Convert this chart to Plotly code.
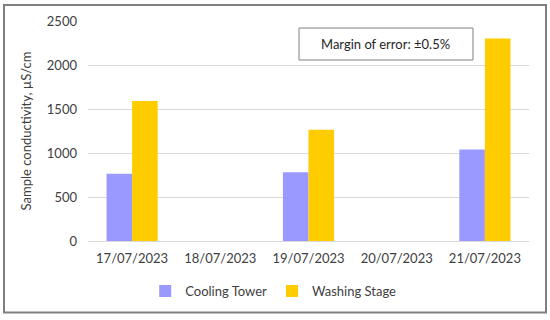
import plotly.graph_objects as go

dates = ["17/07/2023", "18/07/2023", "19/07/2023", "20/07/2023", "21/07/2023"]
cooling_tower = [765, None, 782, None, 1040]
washing_stage = [1590, None, 1265, None, 2300]
y_ticks = [0, 500, 1000, 1500, 2000, 2500]

FONT = "Lato, Open Sans, sans-serif"
TXT = "#404040"

fig = go.Figure()
fig.add_trace(go.Bar(x=dates, y=cooling_tower, name="Cooling Tower",
                     marker=dict(color="#9999FF", line=dict(width=0))))
fig.add_trace(go.Bar(x=dates, y=washing_stage, name="Washing Stage",
                     marker=dict(color="#FFCC00", line=dict(width=0))))

fig.update_layout(
    width=550, height=320,
    margin=dict(l=88, r=21, t=21, b=79),
    paper_bgcolor="white", plot_bgcolor="white",
    font=dict(family=FONT, size=13, color=TXT),
    barmode="group", bargap=0.42, bargroupgap=0,
    showlegend=True,
    legend=dict(orientation="h", x=0.42, xanchor="center", y=-0.227, yanchor="middle",
                font=dict(size=13, color=TXT), itemwidth=30, traceorder="normal"),
    xaxis=dict(showgrid=False, showline=False, ticks="", tickfont=dict(size=13, color=TXT),
               zeroline=False, ticklabelstandoff=8, automargin=False),
    yaxis=dict(range=[0, 2500], tickvals=y_ticks, showgrid=True, gridcolor="#d9d9d9",
               gridwidth=1, zeroline=True, zerolinecolor="#d9d9d9", zerolinewidth=1,
               showline=False, ticks="", ticklabelstandoff=10, automargin=False,
               tickfont=dict(size=13, color=TXT),
               title=dict(text="Sample conductivity, µS/cm", standoff=12,
                          font=dict(size=13, color=TXT))),
    shapes=[
        dict(type="rect", xref="paper", yref="paper", xsizemode="pixel", ysizemode="pixel",
             xanchor=0, yanchor=0, x0=-84, x1=458, y0=-71.5, y1=236,
             line=dict(color="#7f7f7f", width=2), fillcolor="rgba(0,0,0,0)", layer="above"),
        dict(type="rect", xref="paper", yref="paper", x0=0.4785, x1=0.873, y0=0.8227, y1=0.968,
             line=dict(color="#7f7f7f", width=1), fillcolor="white", layer="above"),
    ],
    annotations=[
        dict(text="Margin of error: ±0.5%", xref="paper", yref="paper", x=0.6757, y=0.895,
             xanchor="center", yanchor="middle", showarrow=False,
             font=dict(size=13, color="#262626")),
    ],
)

fig.write_html("out.html", config={"displayModeBar": False},
               post_script="document.body.style.margin='0';")
